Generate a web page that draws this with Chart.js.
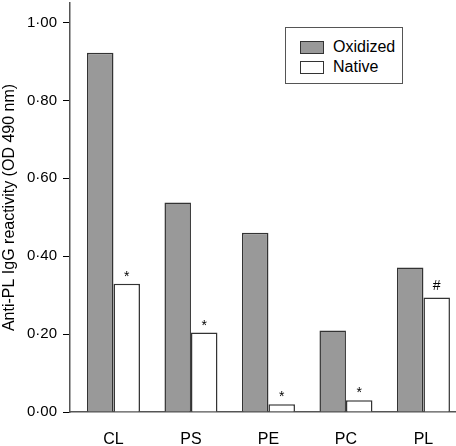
<!DOCTYPE html>
<html lang="en">
<head>
    <meta charset="UTF-8">
    <title>Anti-PL IgG reactivity</title>
    <style>
        body {
            margin: 0;
            padding: 0;
            background: #ffffff;
            font-family: "Liberation Sans", Arial, sans-serif;
        }
        .wrap {
            position: relative;
            width: 456px;
            height: 446px;
        }
        .legend {
            position: absolute;
            left: 285px;
            top: 27px;
            width: 116px;
            height: 55px;
            border: 1px solid #555;
            background: #fff;
        }
        .legend .item {
            position: absolute;
            left: 14px;
            height: 16px;
            display: flex;
            align-items: center;
            font-size: 16px;
            color: #000;
        }
        .legend .swatch {
            width: 22px;
            height: 11px;
            border: 1px solid #333;
            margin-right: 9px;
        }
    </style>
    <script src="https://cdn.jsdelivr.net/npm/chart.js"></script>
</head>
<body>
    <div class="wrap">
        <canvas id="chart" width="456" height="446"></canvas>
        <div class="legend" id="legend"></div>
    </div>

    <script>
        // data
        const categories = ['CL', 'PS', 'PE', 'PC', 'PL'];
        const oxidized = [0.922, 0.538, 0.460, 0.209, 0.371];
        const native = [0.329, 0.204, 0.020, 0.030, 0.294];
        const marks = ['*', '*', '*', '*', '#'];
        const yTicks = [0, 0.2, 0.4, 0.6, 0.8, 1.0];

        const seriesNames = ['Oxidized', 'Native'];
        const seriesFill = ['#999999', '#ffffff'];

        const toPoints = arr => arr.map((v, i) => ({ x: i, y: v }));
        const FONT = '"Liberation Sans", Arial, sans-serif';

        // little * / # above the native bars
        const markPlugin = {
            id: 'marks',
            afterDatasetsDraw(chart) {
                const ctx = chart.ctx;
                const meta = chart.getDatasetMeta(1);
                ctx.save();
                ctx.fillStyle = '#000';
                ctx.font = '14px ' + FONT;
                ctx.textAlign = 'center';
                ctx.textBaseline = 'alphabetic';
                meta.data.forEach((bar, i) => {
                    const off = marks[i] === '#' ? 7 : 3;
                    ctx.fillText(marks[i], bar.x, bar.y - off);
                });
                ctx.restore();
            }
        };

        const chart = new Chart(document.getElementById('chart'), {
            type: 'bar',
            data: {
                datasets: [{
                    label: seriesNames[0],
                    data: toPoints(oxidized),
                    backgroundColor: seriesFill[0],
                    borderColor: '#333',
                    borderWidth: 1.5,
                    categoryPercentage: 0.684,
                    barPercentage: 1.0
                }, {
                    label: seriesNames[1],
                    data: toPoints(native),
                    backgroundColor: seriesFill[1],
                    borderColor: '#333',
                    borderWidth: 1.5,
                    categoryPercentage: 0.684,
                    barPercentage: 1.0
                }]
            },
            options: {
                responsive: false,
                animation: false,
                layout: { padding: { top: 3, right: 0, left: 0, bottom: 0 } },
                plugins: {
                    legend: { display: false },
                    tooltip: { enabled: false }
                },
                scales: {
                    x: {
                        type: 'linear',
                        offset: false,
                        min: -0.561,
                        max: 4.42,
                        afterBuildTicks: s => { s.ticks = categories.map((_, i) => ({ value: i })); },
                        afterFit: s => { s.height = 34; s.paddingLeft = 0; s.paddingRight = 0; },
                        grid: { display: false, drawTicks: false },
                        border: { color: '#555', width: 1.5 },
                        ticks: {
                            padding: 18,
                            maxRotation: 0,
                            color: '#000',
                            font: { size: 16, family: FONT },
                            callback: v => categories[v]
                        }
                    },
                    y: {
                        min: 0,
                        max: 1.05,
                        afterBuildTicks: s => { s.ticks = yTicks.map(v => ({ value: v })); },
                        afterFit: s => { s.width = 70; s.paddingTop = 0; s.paddingBottom = 0; },
                        grid: { drawOnChartArea: false, tickLength: 7, tickColor: '#000' },
                        border: { color: '#555', width: 1.5 },
                        ticks: {
                            padding: 6,
                            color: '#000',
                            font: { size: 15, family: FONT },
                            callback: v => v.toFixed(2).replace('.', '\u00b7')
                        },
                        title: {
                            display: true,
                            text: 'Anti-PL IgG reactivity (OD 490 nm)',
                            color: '#000',
                            padding: { top: 0, bottom: 0 },
                            font: { size: 16, family: FONT }
                        }
                    }
                }
            },
            plugins: [markPlugin]
        });

        // boxed legend in the top right corner
        const legend = document.getElementById('legend');
        seriesNames.forEach((name, i) => {
            const item = document.createElement('div');
            item.className = 'item';
            item.style.top = (11 + i * 20) + 'px';
            const sw = document.createElement('span');
            sw.className = 'swatch';
            sw.style.background = seriesFill[i];
            item.appendChild(sw);
            item.appendChild(document.createTextNode(name));
            legend.appendChild(item);
        });
    </script>
</body>
</html>
